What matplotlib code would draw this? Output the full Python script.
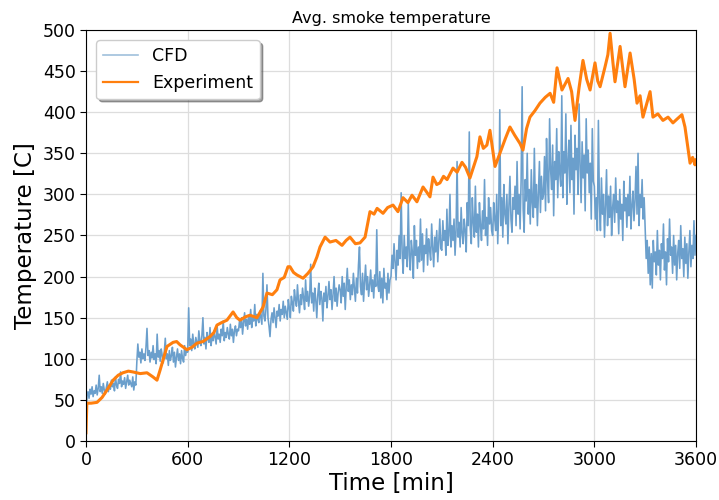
import numpy as np
import matplotlib
matplotlib.use("Agg")
import matplotlib.pyplot as plt

# CFD average smoke temperature, sampled every 6 s
cfd_dt = 6
cfd_temp = [
    # 0 - 294 s
    20, 55, 60, 52, 63, 57, 66, 54, 61, 58, 68, 56, 64, 80, 60, 66, 58, 70, 62, 57,
    65, 72, 60, 68, 63, 74, 66, 70, 61, 78, 68, 64, 75, 70, 84, 66, 73, 69, 77, 64,
    72, 80, 68, 74, 70, 66, 78, 62, 72, 68,
    # 300 - 594 s
    96, 118, 102, 108, 95, 112, 100, 106, 98, 114, 137, 104, 110, 96, 108, 101, 116, 99, 106, 94,
    130, 102, 110, 97, 112, 104, 95, 108, 125, 100, 106, 92, 110, 98, 104, 114, 96, 108, 90, 102,
    112, 98, 106, 94, 110, 100, 96, 116, 104, 112,
    # 600 - 894 s
    108, 162, 116, 124, 110, 130, 118, 112, 126, 120, 114, 134, 122, 116, 128, 150, 118, 126, 112, 132,
    124, 120, 138, 116, 128, 122, 134, 126, 118, 140, 124, 130, 120, 136, 128, 146, 122, 132, 126, 138,
    130, 124, 142, 128, 136, 120, 134, 140, 128, 136,
    # 900 - 1194 s
    134, 146, 138, 150, 130, 144, 156, 140, 148, 136, 152, 142, 160, 138, 150, 146, 166, 140, 154, 148,
    144, 158, 150, 142, 204, 152, 146, 160, 190, 150, 140, 127, 148, 156, 144, 162, 150, 138, 158, 152,
    166, 146, 160, 154, 170, 150, 164, 156, 148, 172,
    # 1200 - 1494 s
    162, 150, 176, 168, 158, 184, 172, 164, 190, 170, 156, 178, 166, 186, 174, 160, 196, 170, 182, 164,
    176, 215, 168, 180, 158, 186, 172, 150, 178, 192, 166, 182, 174, 146, 180, 170, 188, 162, 176, 194,
    172, 184, 160, 178, 200, 170, 186, 164, 180, 190,
    # 1500 - 1794 s
    184, 168, 200, 176, 192, 160, 188, 210, 182, 196, 172, 190, 178, 204, 186, 170, 198, 180, 214, 236,
    188, 178, 204, 170, 194, 214, 184, 200, 176, 190, 208, 182, 196, 174, 202, 188, 257, 190, 182, 206,
    174, 198, 168, 210, 186, 192, 172, 204, 180, 196,
    # 1800 - 2094 s
    200, 226, 210, 240, 218, 196, 232, 214, 250, 222, 302, 228, 204, 250, 222, 236, 212, 290, 226, 208,
    244, 230, 198, 262, 226, 244, 210, 236, 218, 270, 220, 252, 206, 238, 228, 258, 214, 246, 232, 220,
    264, 236, 212, 248, 230, 256, 218, 242, 270, 234,
    # 2100 - 2394 s
    232, 268, 244, 256, 226, 282, 238, 250, 300, 236, 262, 244, 270, 226, 256, 340, 248, 266, 236, 284,
    252, 240, 270, 256, 230, 290, 262, 376, 258, 240, 296, 266, 248, 310, 254, 276, 236, 290, 262, 244,
    280, 258, 318, 250, 272, 238, 296, 264, 284, 256,
    # 2400 - 2694 s
    250, 290, 270, 256, 300, 240, 282, 403, 262, 296, 248, 312, 276, 264, 300, 240, 286, 322, 270, 254,
    296, 282, 310, 262, 340, 276, 300, 258, 318, 431, 282, 254, 318, 292, 350, 276, 306, 264, 330, 290,
    272, 356, 284, 312, 262, 300, 340, 278, 322, 294,
    # 2700 - 2994 s
    300, 346, 280, 368, 318, 290, 392, 330, 306, 360, 274, 340, 318, 380, 296, 352, 326, 310, 420, 296,
    352, 326, 398, 288, 340, 366, 302, 384, 318, 344, 276, 372, 330, 356, 300, 410, 336, 290, 364, 320,
    348, 280, 392, 326, 354, 302, 338, 270, 380, 316,
    # 3000 - 3294 s
    310, 270, 296, 256, 390, 290, 256, 320, 276, 300, 248, 286, 330, 262, 298, 272, 310, 250, 284, 300,
    266, 320, 278, 292, 252, 306, 270, 288, 244, 316, 280, 296, 260, 300, 274, 322, 258, 286, 304, 268,
    292, 334, 276, 350, 262, 300, 284, 318, 270, 296,
    # 3300 - 3600 s
    260, 222, 244, 204, 236, 190, 228, 186, 244, 218, 230, 202, 256, 214, 232, 196, 240, 222, 264, 208,
    230, 190, 246, 218, 270, 226, 236, 204, 250, 214, 238, 196, 228, 244, 210, 262, 222, 234, 200, 248,
    216, 240, 198, 230, 256, 212, 238, 222, 268, 226, 250,
]
cfd_time = np.arange(len(cfd_temp)) * cfd_dt

# Measured smoke temperature
exp_time = [0, 5, 30, 65, 95, 124, 160, 190, 218, 250, 277, 320, 360, 395, 419, 437, 478, 514,
            535, 555, 596, 625, 655, 690, 732, 755, 773, 800, 832, 868, 890, 909, 940, 968, 1009,
            1045, 1068, 1100, 1127, 1145, 1170, 1192, 1204, 1225, 1245, 1281, 1310, 1340, 1363,
            1381, 1411, 1440, 1475, 1511, 1535, 1558, 1590, 1617, 1647, 1676, 1700, 1718, 1753,
            1780, 1812, 1841, 1871, 1900, 1924, 1953, 1989, 2010, 2030, 2048, 2070, 2089, 2110,
            2131, 2166, 2190, 2219, 2240, 2266, 2307, 2325, 2345, 2366, 2384, 2414, 2443, 2475,
            2502, 2530, 2561, 2579, 2600, 2620, 2650, 2679, 2710, 2739, 2760, 2780, 2809, 2845,
            2866, 2886, 2910, 2933, 2955, 2975, 3004, 3020, 3034, 3063, 3080, 3093, 3110, 3122,
            3152, 3181, 3211, 3235, 3252, 3270, 3287, 3329, 3346, 3375, 3405, 3435, 3464, 3490,
            3517, 3535, 3565, 3580, 3594, 3600]
exp_temp = [10, 46, 46, 47, 53, 62, 74, 80, 83, 85, 84, 82, 83, 78, 74, 86, 115, 120,
            121, 117, 111, 114, 119, 121, 127, 132, 141, 144, 147, 157, 150, 147, 151, 153, 150,
            163, 180, 178, 184, 196, 199, 212, 212, 205, 202, 198, 204, 212, 224,
            236, 248, 242, 244, 238, 244, 248, 240, 241, 248, 279, 276, 283, 277,
            284, 287, 279, 296, 290, 299, 291, 309, 303, 297, 321, 312, 314, 322,
            318, 332, 327, 339, 333, 320, 346, 370, 356, 360, 378, 334, 350, 368,
            382, 372, 362, 354, 380, 394, 402, 411, 418, 423, 412, 454, 427, 441,
            425, 390, 430, 463, 440, 427, 460, 438, 431, 455, 470, 496, 460, 437,
            480, 431, 472, 440, 411, 420, 394, 425, 394, 398, 390, 394, 387, 392,
            397, 382, 338, 345, 336, 342]

x_ticks = [0, 600, 1200, 1800, 2400, 3000, 3600]
y_ticks = list(range(0, 501, 50))

fig = plt.figure(figsize=(7.19, 5.0), dpi=100)
ax = fig.add_axes([0.1196, 0.118, 0.8484, 0.822])

ax.plot(cfd_time, cfd_temp, color="#6b9fcc", lw=1.15, label="CFD")
ax.plot(exp_time, exp_temp, color="#ff7f0e", lw=2.2, label="Experiment")

ax.set_xlim(0, 3600)
ax.set_ylim(0, 500)
ax.set_xticks(x_ticks)
ax.set_yticks(y_ticks)
ax.tick_params(labelsize=12.5, length=4)
ax.grid(True, color="#dddddd", lw=0.9)
ax.set_axisbelow(True)

ax.set_title("Avg. smoke temperature", fontsize=11.5, pad=5)
ax.set_xlabel("Time [min]", fontsize=16.5, labelpad=2)
ax.set_ylabel("Temperature [C]", fontsize=16.5, labelpad=4)

leg = ax.legend(loc="upper left", fontsize=12.5, shadow=True, fancybox=True,
                framealpha=1, borderaxespad=0.6)
leg_lines = leg.get_lines()
leg_lines[0].set_linewidth(1.2)
leg_lines[0].set_color("#9fc0dc")
leg_lines[1].set_linewidth(1.6)

fig.savefig("out.png", dpi=100)
